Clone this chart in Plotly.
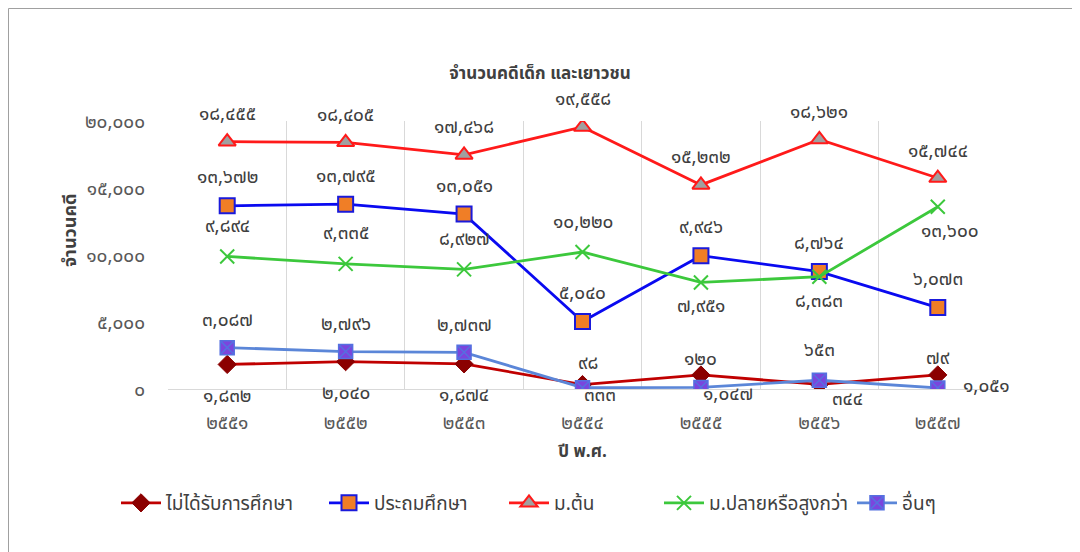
import plotly.graph_objects as go

# ---- data ----
years = ["๒๕๕๑", "๒๕๕๒", "๒๕๕๓", "๒๕๕๔", "๒๕๕๕", "๒๕๕๖", "๒๕๕๗"]
no_edu = [1832, 2040, 1874, 333, 1047, 344, 1051]
primary = [13672, 13795, 13051, 5040, 9946, 8764, 6073]
lower_sec = [18455, 18405, 17468, 19558, 15232, 18621, 15744]
upper_sec = [9894, 9335, 8927, 10220, 7951, 8383, 13600]
others = [3087, 2796, 2737, 98, 120, 653, 79]
y_ticks = [0, 5000, 10000, 15000, 20000]

names = ["ไม่ได้รับการศึกษา", "ประถมศึกษา", "ม.ต้น", "ม.ปลายหรือสูงกว่า", "อื่นๆ"]
title_text = "จำนวนคดีเด็ก และเยาวชน"
x_title = "ปี พ.ศ."
y_title = "จำนวนคดี"

THAI = str.maketrans("0123456789", "๐๑๒๓๔๕๖๗๘๙")


def thai_num(v):
    return f"{v:,}".translate(THAI)


FONT = "Tahoma, 'Noto Sans Thai', 'Leelawadee UI', 'Noto Sans', sans-serif"
TXT = "#404040"
NUM_SIZE = 19

# page is offset by the 8px body margin; figure is sized to fill the rest
W, H = 1072, 544
OFF = 8
PL, PR, PT, PB = 168 - OFF, 997 - OFF, 121 - OFF, 389 - OFF
pw, ph = PR - PL, PB - PT

# legend entry start positions (page px)
legend_x = [122, 330, 510, 665, 858]
legend_y = 503

# ---- styles ----
styles = [
    dict(line=dict(color="#C00000", width=2.8),
         marker=dict(symbol="diamond", size=14, color="#8B0000", line=dict(color="#8B0000", width=1))),
    dict(line=dict(color="#0A0AF0", width=2.8),
         marker=dict(symbol="square", size=15, color="#F07E26", line=dict(color="#1A1ADB", width=2))),
    dict(line=dict(color="#FF1A1A", width=2.8),
         marker=dict(symbol="triangle-up", size=15, color="#A0A0A0", line=dict(color="#FF1A1A", width=2))),
    dict(line=dict(color="#3CC83C", width=2.8),
         marker=dict(symbol="x-thin", size=14, color="#3CC83C", line=dict(color="#3CC83C", width=2))),
    dict(line=dict(color="#5B86D8", width=2.8),
         marker=dict(symbol="square-x", size=14, color="#7B45DD", line=dict(color="#5570E0", width=1.5))),
]

series = [no_edu, primary, lower_sec, upper_sec, others]

# label offsets (pixels) per series / point
label_shift = [
    [(0, -32), (0, -32), (0, -32), (17, -11), (27, -20), (28, -15), (49, -12)],
    [(0, 28)] * 7,
    [(0, 27)] * 7,
    [(0, 30), (0, 30), (0, 30), (0, 30), (0, -24), (0, -25), (12, -25)],
    [(0, 27), (0, 27), (0, 27), (5, 24), (0, 28), (0, 30), (0, 29)],
]

fig = go.Figure()
annotations = []
legends = {}
for i, (name, vals, st, shifts) in enumerate(zip(names, series, styles, label_shift)):
    lg = "legend" if i == 0 else f"legend{i + 1}"
    legends[lg] = dict(orientation="h", xref="container", yref="container",
                       x=(legend_x[i] - 6 - OFF) / W, xanchor="left",
                       y=1 - (legend_y - OFF) / H, yanchor="middle",
                       bgcolor="rgba(0,0,0,0)",
                       font=dict(family=FONT, size=NUM_SIZE, color="#404040"),
                       itemwidth=40)
    fig.add_trace(go.Scatter(x=years, y=vals, name=name, mode="lines+markers",
                             line=st["line"], marker=st["marker"], legend=lg))
    for xv, yv, (dx, dy) in zip(years, vals, shifts):
        annotations.append(dict(x=xv, y=yv, text=thai_num(yv), showarrow=False,
                                xshift=dx, yshift=dy,
                                font=dict(family=FONT, size=NUM_SIZE, color=TXT)))

# y-axis title placed like the reference (above the axis middle)
annotations.append(dict(xref="paper", yref="paper",
                        x=(70 - OFF - PL) / pw, y=(PB - (231 - OFF)) / ph,
                        text=f"<b>{y_title}</b>", textangle=-90, showarrow=False,
                        xanchor="center", yanchor="middle",
                        font=dict(family=FONT, size=18, color="#404040")))

fig.update_layout(
    width=W, height=H,
    paper_bgcolor="white", plot_bgcolor="white",
    margin=dict(l=PL, r=W - PR, t=PT, b=H - PB, pad=0),
    font=dict(family=FONT, size=NUM_SIZE, color="#595959"),
    title=dict(text=f"<b>{title_text}</b>", x=(540 - OFF) / W, xref="container", xanchor="center",
               y=1 - (73 - OFF) / H, yref="container", yanchor="middle",
               font=dict(family=FONT, size=17, color="#404040")),
    showlegend=True,
    annotations=annotations,
    shapes=[dict(type="rect", xref="paper", yref="paper",
                 x0=(0.5 - PL) / pw, x1=(1067 - PL) / pw,
                 y0=(PB - H - 10) / ph, y1=(PB - 0.5) / ph,
                 line=dict(color="#A0A0A0", width=1), fillcolor="rgba(0,0,0,0)", layer="below")],
    **legends,
)

fig.update_xaxes(type="category", range=[-0.5, 6.5], showgrid=True, gridcolor="#D9D9D9",
                 gridwidth=1, tickson="boundaries", ticks="", showline=True,
                 linecolor="#D9D9D9", linewidth=1, zeroline=False,
                 ticklabelstandoff=16,
                 tickfont=dict(family=FONT, size=NUM_SIZE, color="#595959"),
                 title=dict(text=f"<b>{x_title}</b>", standoff=8,
                            font=dict(family=FONT, size=17, color="#404040")))
fig.update_yaxes(range=[0, 20000], tickvals=y_ticks, ticktext=[thai_num(v) for v in y_ticks],
                 showgrid=False, zeroline=False, showline=False, ticks="",
                 ticklabelstandoff=22,
                 tickfont=dict(family=FONT, size=NUM_SIZE, color="#595959"))

fig.write_html("out.html")
